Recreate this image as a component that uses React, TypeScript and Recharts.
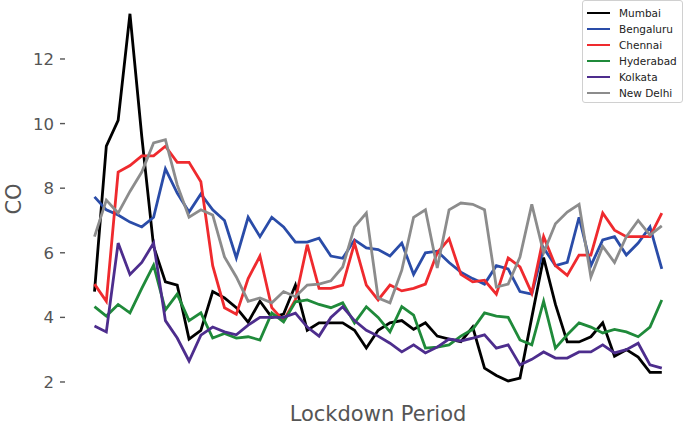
import React from "react";
import { LineChart, Line, XAxis, YAxis } from "recharts";

// one reading per day of the lockdown window (49 samples)
const mumbai = [
  4.8, 9.3, 10.1, 13.4, 9.6, 6.2, 5.1, 5.0, 3.33, 3.6, 4.8, 4.6, 4.3, 3.85, 4.5, 4.0, 4.1,
  5.0, 3.6, 3.83, 3.83, 3.83, 3.6, 3.05, 3.6, 3.83, 3.9, 3.63, 3.83, 3.42, 3.33, 3.25, 3.7,
  2.43, 2.2, 2.03, 2.12, 4.0, 5.85, 4.4, 3.24, 3.24, 3.4, 3.83, 2.8, 3.0, 2.77, 2.3, 2.3,
];
const bengaluru = [
  7.73, 7.33, 7.17, 6.95, 6.8, 7.1, 8.6, 7.85, 7.26, 7.82, 7.33, 7.0, 5.84, 7.1, 6.5, 7.1,
  6.8, 6.33, 6.33, 6.45, 5.9, 5.83, 6.4, 6.15, 6.1, 5.9, 6.3, 5.33, 6.0, 6.05, 5.7, 5.4, 5.2,
  5.03, 5.6, 5.5, 4.8, 4.72, 6.15, 5.6, 5.7, 7.1, 5.6, 6.4, 6.5, 5.93, 6.3, 6.8, 5.5,
];
const chennai = [
  5.03, 4.5, 8.5, 8.7, 9.0, 9.0, 9.3, 8.8, 8.8, 8.2, 5.6, 4.3, 4.1, 5.2, 5.9, 4.3, 3.9, 4.55,
  6.25, 4.9, 4.9, 5.0, 6.3, 5.0, 4.54, 5.0, 4.82, 4.9, 5.03, 6.0, 6.43, 5.33, 5.1, 5.15, 4.72,
  5.84, 5.56, 4.75, 6.5, 5.6, 5.3, 5.93, 5.93, 7.23, 6.7, 6.5, 6.5, 6.5, 7.23,
];
const hyderabad = [
  4.33, 4.04, 4.4, 4.14, 4.9, 5.62, 4.23, 4.72, 3.9, 4.14, 3.36, 3.5, 3.36, 3.4, 3.3, 4.14,
  3.86, 4.48, 4.54, 4.4, 4.3, 4.45, 3.83, 4.33, 4.0, 3.55, 4.33, 4.07, 3.05, 3.08, 3.15, 3.42,
  3.63, 4.14, 4.04, 4.0, 3.3, 3.15, 4.5, 3.05, 3.46, 3.83, 3.7, 3.52, 3.63, 3.55, 3.4, 3.7, 4.54,
];
const kolkata = [
  3.73, 3.55, 6.3, 5.33, 5.7, 6.3, 3.9, 3.36, 2.65, 3.45, 3.7, 3.55, 3.46, 3.76, 4.0, 4.0, 4.0,
  4.13, 3.7, 3.42, 4.0, 4.33, 3.9, 3.6, 3.42, 3.2, 2.93, 3.15, 2.9, 3.08, 3.33, 3.27, 3.36,
  3.46, 3.05, 3.15, 2.53, 2.7, 2.93, 2.74, 2.74, 2.93, 2.93, 3.15, 2.9, 3.0, 3.2, 2.53, 2.43,
];
const newDelhi = [
  6.5, 7.63, 7.23, 7.9, 8.5, 9.4, 9.5, 8.1, 7.1, 7.33, 7.17, 5.87, 5.25, 4.5, 4.6, 4.45, 4.8,
  4.64, 5.0, 5.03, 5.13, 5.56, 6.8, 7.23, 4.6, 4.45, 5.46, 7.1, 7.33, 5.53, 7.33, 7.54, 7.5,
  7.33, 4.94, 5.03, 5.87, 7.5, 6.0, 6.9, 7.26, 7.5, 5.25, 6.2, 5.7, 6.5, 7.0, 6.55, 6.83,
];

const cities = ["Mumbai", "Bengaluru", "Chennai", "Hyderabad", "Kolkata", "New Delhi"];
const colors = ["#000000", "#2a4ca8", "#ef2a2e", "#1f8a3a", "#4d2d8d", "#8c8c8c"];
const yTicks = [2, 4, 6, 8, 10, 12];

const series = [mumbai, bengaluru, chennai, hyderabad, kolkata, newDelhi];
const data = mumbai.map((_, i) => {
  const row: any = { day: i };
  cities.forEach((c, k) => (row[c] = series[k][i]));
  return row;
});

const FONT = "DejaVu Sans, Verdana, sans-serif";

const YTick = (props: any) => {
  const { y, payload } = props;
  return (
    <g>
      <text x={54} y={y} dy={6} textAnchor="end" fill="#555" fontSize={16.5} fontFamily={FONT}>
        {payload.value}
      </text>
      <line x1={60} x2={65} y1={y} y2={y} stroke="#555" strokeWidth={1.4} />
    </g>
  );
};

const App = () => {
  return (
    <div style={{ position: "absolute", left: 0, top: 0, width: 685, height: 425, background: "#fff" }}>
      <LineChart
        width={685}
        height={425}
        data={data}
        margin={{ top: 7.3, right: 23.2, bottom: 0, left: 0 }}
      >
        <XAxis
          dataKey="day"
          type="number"
          domain={[0, 48]}
          tick={false}
          axisLine={false}
          tickLine={false}
          height={30.1}
          label={() => (
            <text x={378} y={421} textAnchor="middle" fill="#555" fontSize={21} fontFamily={FONT}>
              Lockdown Period
            </text>
          )}
        />
        <YAxis
          type="number"
          domain={[1.6, 13.6]}
          ticks={yTicks}
          width={94.5}
          axisLine={false}
          tickLine={false}
          tick={<YTick />}
          label={() => (
            <text
              x={21}
              y={199}
              transform="rotate(-90, 21, 199)"
              textAnchor="middle"
              fill="#555"
              fontSize={21}
              fontFamily={FONT}
            >
              CO
            </text>
          )}
        />
        {cities.map((c, k) => (
          <Line
            key={c}
            type="linear"
            dataKey={c}
            stroke={colors[k]}
            strokeWidth={2.8}
            dot={false}
            isAnimationActive={false}
          />
        ))}
      </LineChart>
      <div
        style={{
          position: "absolute",
          left: 582,
          top: 0,
          width: 101,
          height: 103,
          border: "1px solid #d0d0d0",
          borderRadius: 3,
          background: "#fff",
          boxSizing: "border-box",
          fontFamily: FONT,
          fontSize: 10.5,
          color: "#222",
          paddingTop: 4,
        }}
      >
        {cities.map((c, k) => (
          <div key={c} style={{ display: "flex", alignItems: "center", height: 16, paddingLeft: 4 }}>
            <div style={{ width: 23, height: 2.8, background: colors[k], marginRight: 9 }} />
            <span>{c}</span>
          </div>
        ))}
      </div>
    </div>
  );
};

export default App;
